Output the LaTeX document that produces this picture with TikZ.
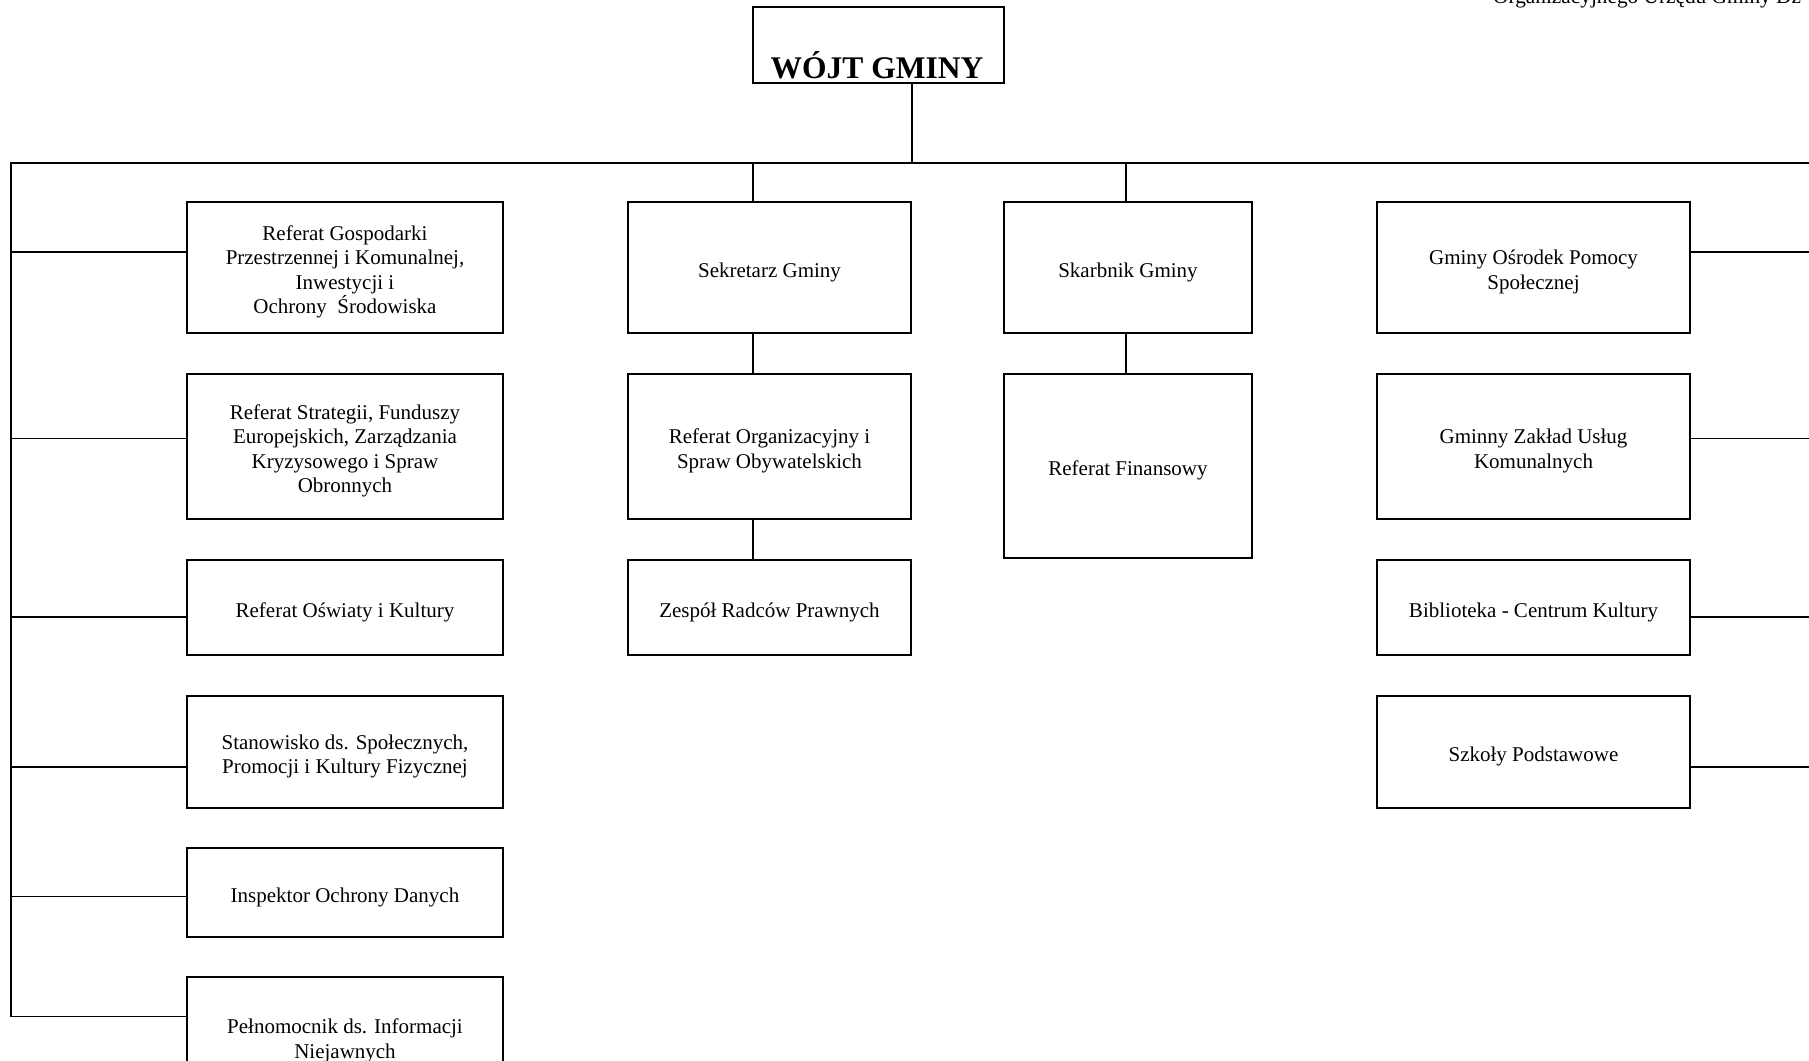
\documentclass[tikz,border=0pt]{standalone}
\usepackage{fontspec}
\setmainfont{Liberation Serif}
\newcommand\orgbox[6]{%
  \node[box,minimum width={#4-#2},minimum height={#5-#3}] (#1) at ({(#2+#4)/2},{(#3+#5)/2}) {};%
  \node[boxtext] (#1t) at ({(#2+#4)/2},{(#3+#5)/2+4.5}) {#6};}
\begin{document}
\begin{tikzpicture}[x=1pt,y=-1pt,
  box/.style={draw,line width=1.7pt,inner sep=0pt},
  boxtext/.style={inner sep=0pt,align=center,font=\fontsize{21}{24.5}\selectfont},
  conn/.style={line width=1.4pt}]
\useasboundingbox (0,0) rectangle (1809,1060);
\clip (0,0) rectangle (1809,1060);

% header (cut off at top)
\node[anchor=base west,inner sep=0pt,font=\fontsize{21.3}{24}\selectfont] (hdr) at (1493,3) {Organizacyjnego Urzędu Gminy Dz};

% top box
\orgbox{wojt}{753}{7}{1004}{83}{}
\node[anchor=base,inner sep=0pt,font=\fontsize{31.5}{36}\selectfont\bfseries] (wojtl) at (877,78.5) {WÓJT GMINY};

% left column
\orgbox{b1}{187}{202}{503}{333}{Referat Gospodarki\\Przestrzennej i Komunalnej,\\Inwestycji i\\Ochrony\ \ Środowiska}
\orgbox{b2}{187}{374}{503}{519}{Referat Strategii, Funduszy\\Europejskich, Zarządzania\\Kryzysowego i Spraw\\Obronnych}
\orgbox{b3}{187}{560}{503}{655}{Referat Oświaty i Kultury}
\orgbox{b4}{187}{696}{503}{808}{Stanowisko ds. Społecznych,\\Promocji i Kultury Fizycznej}
\orgbox{b5}{187}{848}{503}{937}{Inspektor Ochrony Danych}
\orgbox{b6}{187}{977}{503}{1096}{Pełnomocnik ds. Informacji\\Niejawnych}

% middle columns
\orgbox{s1}{628}{202}{911}{333}{Sekretarz Gminy}
\orgbox{s2}{628}{374}{911}{519}{Referat Organizacyjny i\\Spraw Obywatelskich}
\orgbox{s3}{628}{560}{911}{655}{Zespół Radców Prawnych}
\orgbox{k1}{1004}{202}{1252}{333}{Skarbnik Gminy}
\orgbox{k2}{1004}{374}{1252}{558}{Referat Finansowy}

% right column
\orgbox{r1}{1377}{202}{1690}{333}{Gminy Ośrodek Pomocy\\Społecznej}
\orgbox{r2}{1377}{374}{1690}{519}{Gminny Zakład Usług\\Komunalnych}
\orgbox{r3}{1377}{560}{1690}{655}{Biblioteka - Centrum Kultury}
\orgbox{r4}{1377}{696}{1690}{808}{Szkoły Podstawowe}

% connectors
\coordinate (top) at (912,163);
\coordinate (busL) at (11,163);
\coordinate (busR) at (1815,163);
\coordinate (busLB) at (11,1016.5);
\draw[conn] (wojt.south -| top) -- (top);
\draw[conn] (busR) -- (busL) -- (busLB) -- (busLB -| b6.west);

\coordinate (cl1) at (11,252);
\coordinate (cl2) at (11,438.5);
\coordinate (cl3) at (11,617);
\coordinate (cl4) at (11,767);
\coordinate (cl5) at (11,896.5);
\draw[conn] (cl1) -- (cl1 -| b1.west);
\draw[conn] (cl2) -- (cl2 -| b2.west);
\draw[conn] (cl3) -- (cl3 -| b3.west);
\draw[conn] (cl4) -- (cl4 -| b4.west);
\draw[conn] (cl5) -- (cl5 -| b5.west);

\coordinate (sb) at (753,163);
\draw[conn] (sb) -- (sb |- s1.north);
\draw[conn] (s1.south -| sb) -- (s2.north -| sb);
\draw[conn] (s2.south -| sb) -- (s3.north -| sb);

\coordinate (kb) at (1126,163);
\draw[conn] (kb) -- (kb |- k1.north);
\draw[conn] (k1.south -| kb) -- (k2.north -| kb);

\coordinate (cr1) at (1815,252);
\coordinate (cr2) at (1815,438.5);
\coordinate (cr3) at (1815,617);
\coordinate (cr4) at (1815,767);
\draw[conn] (r1.east |- cr1) -- (cr1);
\draw[conn] (r2.east |- cr2) -- (cr2);
\draw[conn] (r3.east |- cr3) -- (cr3);
\draw[conn] (r4.east |- cr4) -- (cr4);
\end{tikzpicture}
\end{document}
